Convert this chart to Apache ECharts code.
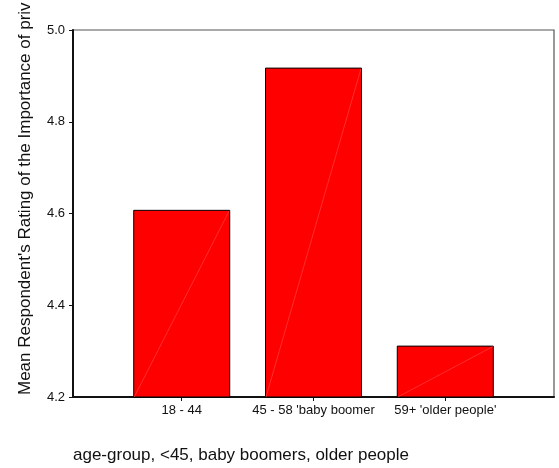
<!DOCTYPE html>
<html>
<head>
<meta charset="utf-8">
<script src="https://cdn.jsdelivr.net/npm/echarts@6/dist/echarts.min.js"></script>
<style>html,body{margin:0;padding:0;background:#fff}#c{width:559px;height:468px}</style>
</head>
<body>
<div id="c"></div>
<script>
var categories = ["18 - 44", "45 - 58 'baby boomer", "59+ 'older people'"];
var meanRating = [4.608, 4.918, 4.312];
var yTicks = [4.2, 4.4, 4.6, 4.8, 5.0];
var yName = "Mean Respondent's Rating of the Importance of priv";
var xName = "age-group, <45, baby boomers, older people";

var positions = categories.map(function (c, i) { return i; });
var barData = meanRating.map(function (v, i) { return [i, v]; });
var FONT = 'Liberation Sans, Arial, sans-serif';

var chart = echarts.init(document.getElementById('c'), null, {renderer: 'canvas'});
chart.setOption({
  animation: false,
  backgroundColor: '#fff',
  grid: {left: 73, right: 5, top: 30, bottom: 71, show: true, borderColor: '#555', borderWidth: 1.2},
  xAxis: {
    type: 'value', min: -0.825, max: 2.825,
    splitLine: {show: false},
    axisLine: {show: true, onZero: false, lineStyle: {color: '#111', width: 2}},
    axisTick: {show: true, customValues: positions, length: 4, lineStyle: {color: '#111'}},
    axisLabel: {customValues: positions, margin: 7, color: '#111', fontSize: 13, fontFamily: FONT,
      formatter: function (v) { return categories[Math.round(v)]; }}
  },
  yAxis: {
    type: 'value', min: yTicks[0], max: yTicks[yTicks.length - 1], interval: 0.2,
    splitLine: {show: false},
    axisLine: {show: true, onZero: false, lineStyle: {color: '#111', width: 2}},
    axisTick: {show: true, length: 4, lineStyle: {color: '#111'}},
    axisLabel: {margin: 8, color: '#111', fontSize: 13, fontFamily: FONT,
      formatter: function (v) { return v.toFixed(1); }}
  },
  series: [
    {
      type: 'bar', data: barData, barWidth: 97,
      itemStyle: {color: '#ff0000', borderColor: '#000', borderWidth: 1}
    },
    {
      type: 'custom', data: barData, z: 3, clip: true,
      renderItem: function (params, api) {
        var x = api.value(0), v = api.value(1);
        var w = 97;
        var p0 = api.coord([x, yTicks[0]]);
        var p1 = api.coord([x, v]);
        return {
          type: 'line', silent: true,
          shape: {x1: p0[0] - w / 2 + 1, y1: p0[1], x2: p1[0] + w / 2 - 1, y2: p1[1] + 1},
          style: {stroke: '#ff5a5a', lineWidth: 0.5}
        };
      }
    }
  ],
  graphic: [
    {type: 'text', x: 34, y: 395, rotation: Math.PI / 2,
      style: {text: yName, font: '17px ' + FONT, fill: '#111', align: 'left', verticalAlign: 'bottom'}},
    {type: 'text', x: 73, y: 455,
      style: {text: xName, font: '17px ' + FONT, fill: '#111', align: 'left', verticalAlign: 'middle'}}
  ]
});
</script>
</body>
</html>
